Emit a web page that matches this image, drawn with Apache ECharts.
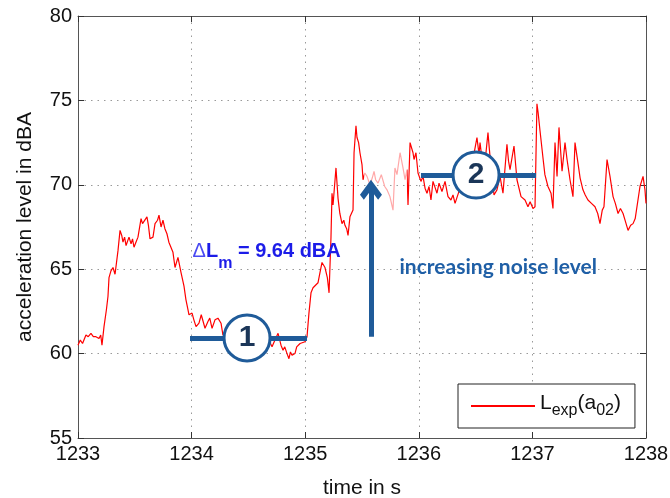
<!DOCTYPE html>
<html>
<head>
    <meta charset="utf-8"/>
    <script src="https://cdn.jsdelivr.net/npm/echarts@6/dist/echarts.min.js"></script>
    <style>body{margin:0;background:#fff}</style>
</head>
<body>
<div id="main" style="width:670px;height:498px;"></div>
<script type="text/javascript">
    // measured level over time
    var timeS = [
        1233.000, 1233.020, 1233.040, 1233.070, 1233.090, 1233.114, 1233.135, 1233.158, 1233.185, 1233.200,
        1233.211, 1233.229, 1233.250, 1233.264, 1233.273, 1233.290, 1233.308, 1233.326, 1233.352, 1233.370,
        1233.385, 1233.396, 1233.410, 1233.423, 1233.449, 1233.467, 1233.480, 1233.493, 1233.510, 1233.528,
        1233.555, 1233.568, 1233.581, 1233.607, 1233.620, 1233.634, 1233.660, 1233.678, 1233.700, 1233.713,
        1233.731, 1233.748, 1233.765, 1233.783, 1233.800, 1233.810, 1233.836, 1233.854, 1233.880, 1233.907,
        1233.933, 1233.950, 1233.968, 1233.977, 1234.004, 1234.020, 1234.039, 1234.065, 1234.085, 1234.100,
        1234.118, 1234.144, 1234.160, 1234.180, 1234.206, 1234.232, 1234.259, 1234.276, 1234.320, 1234.360,
        1234.400, 1234.440, 1234.480, 1234.520, 1234.560, 1234.600, 1234.640, 1234.680, 1234.708, 1234.734,
        1234.761, 1234.787, 1234.805, 1234.820, 1234.840, 1234.857, 1234.870, 1234.884, 1234.910, 1234.925,
        1234.937, 1234.955, 1234.972, 1234.998, 1235.016, 1235.033, 1235.051, 1235.069, 1235.086, 1235.113,
        1235.130, 1235.148, 1235.174, 1235.195, 1235.210, 1235.227, 1235.236, 1235.245, 1235.271, 1235.289,
        1235.305, 1235.324, 1235.340, 1235.350, 1235.365, 1235.377, 1235.394, 1235.421, 1235.430, 1235.447,
        1235.456, 1235.470, 1235.482, 1235.500, 1235.509, 1235.525, 1235.544, 1235.570, 1235.590, 1235.606,
        1235.620, 1235.641, 1235.670, 1235.700, 1235.720, 1235.746, 1235.773, 1235.790, 1235.808, 1235.835,
        1235.861, 1235.879, 1235.896, 1235.905, 1235.923, 1235.949, 1235.958, 1235.975, 1235.993, 1236.019,
        1236.037, 1236.055, 1236.072, 1236.090, 1236.107, 1236.125, 1236.145, 1236.160, 1236.178, 1236.204,
        1236.231, 1236.257, 1236.283, 1236.301, 1236.319, 1236.363, 1236.390, 1236.415, 1236.440, 1236.468,
        1236.490, 1236.512, 1236.530, 1236.539, 1236.555, 1236.574, 1236.590, 1236.609, 1236.620, 1236.636,
        1236.662, 1236.688, 1236.715, 1236.741, 1236.776, 1236.790, 1236.803, 1236.838, 1236.864, 1236.900,
        1236.935, 1236.961, 1236.980, 1237.005, 1237.023, 1237.040, 1237.050, 1237.067, 1237.093, 1237.110,
        1237.137, 1237.150, 1237.164, 1237.181, 1237.199, 1237.217, 1237.234, 1237.261, 1237.287, 1237.305,
        1237.331, 1237.357, 1237.375, 1237.401, 1237.420, 1237.445, 1237.465, 1237.489, 1237.520, 1237.551,
        1237.575, 1237.595, 1237.615, 1237.630, 1237.657, 1237.683, 1237.710, 1237.730, 1237.754, 1237.775,
        1237.798, 1237.820, 1237.842, 1237.865, 1237.886, 1237.905, 1237.921, 1237.947, 1237.974, 1237.991,
        1238.000
    ];
    var levelDbA = [
        60.5, 60.8, 60.6, 61.1, 61.0, 61.2, 61.0, 61.0, 60.9, 61.1,
        60.5, 61.6, 62.6, 63.4, 64.5, 64.9, 65.1, 64.7, 66.1, 67.3,
        67.0, 66.6, 66.9, 66.4, 66.9, 66.5, 66.8, 66.3, 66.6, 66.9,
        68.0, 67.7, 67.8, 68.1, 67.6, 66.8, 66.9, 67.7, 67.9, 68.2,
        67.5, 67.9, 67.4, 67.1, 66.6, 66.5, 66.0, 65.1, 65.7, 64.8,
        64.0, 63.2, 62.6, 62.3, 62.4, 62.0, 61.6, 61.8, 62.3, 62.2,
        61.5, 61.9, 62.1, 61.5, 62.0, 62.1, 61.8, 61.1, 61.4, 61.0,
        61.3, 60.9, 61.2, 60.8, 61.1, 60.7, 61.0, 60.8, 60.4, 60.8,
        61.2, 60.5, 60.2, 60.4, 60.0, 59.7, 60.1, 59.9, 60.0, 60.4,
        60.3, 60.6, 60.5, 60.7, 61.0, 62.4, 63.6, 63.9, 64.0, 64.2,
        64.8, 65.4, 65.1, 64.5, 63.6, 66.9, 69.5, 68.8, 71.0, 69.2,
        68.3, 67.7, 67.9, 67.6, 67.4, 67.0, 68.1, 68.5, 71.9, 73.5,
        72.8, 72.5, 71.9, 71.2, 70.3, 70.7, 70.5, 70.0, 70.4, 70.8,
        70.3, 70.1, 70.6, 69.9, 69.7, 69.3, 68.5, 71.0, 70.6, 71.9,
        71.0, 70.3, 70.9, 68.8, 72.5, 71.9, 71.5, 71.9, 70.7, 70.2,
        70.5, 69.8, 69.5, 69.9, 69.1, 70.2, 69.8, 69.5, 70.1, 69.6,
        70.2, 69.3, 69.1, 69.4, 68.9, 69.8, 69.5, 70.3, 70.9, 71.5,
        72.0, 72.8, 71.8, 72.5, 71.6, 70.9, 71.8, 73.1, 72.2, 71.0,
        69.4, 69.7, 70.5, 69.5, 72.4, 71.4, 70.9, 72.3, 70.3, 69.3,
        69.1, 68.7, 69.0, 68.6, 68.7, 74.8, 74.3, 73.2, 71.6, 70.6,
        69.9, 70.0, 69.5, 68.6, 72.5, 70.5, 73.4, 70.8, 72.5, 71.5,
        70.3, 69.3, 72.5, 71.3, 70.4, 69.7, 69.4, 69.1, 68.9, 68.7,
        68.3, 67.7, 68.5, 68.7, 71.5, 70.5, 69.3, 68.9, 68.3, 68.6,
        68.3, 67.8, 67.3, 67.6, 67.7, 68.0, 68.1, 69.9, 70.5, 69.7,
        68.9
    ];
    var xMin = 1233, xMax = 1238, xStep = 1;
    var yMin = 55, yMax = 80, yStep = 5;

    // marked mean levels (1) and (2)
    var refNames = ['1', '2'];
    var refLevel = [60.93, 70.58];
    var refStart = [1233.986, 1236.019];
    var refEnd = [1235.016, 1237.032];
    var refCircleT = [1234.488, 1236.504];

    // arrow from level 1 up to level 2
    var arrowT = 1235.579;
    var arrowFrom = 61.0;
    var arrowTo = 69.7;

    // text notes
    var deltaNote = {t: 1234.004, v: 65.75, text: ' = 9.64 dBA'};
    var noiseNote = {t: 1235.826, v: 65.13, text: 'increasing noise level'};

    var fontA = "'Liberation Sans', Arial, sans-serif";
    var blue = '#1f5b99';

    var lineData = timeS.map(function (t, i) { return [t, levelDbA[i]]; });

    var refLines = refNames.map(function (n, i) {
        return [{coord: [refStart[i], refLevel[i]]}, {coord: [refEnd[i], refLevel[i]]}];
    });
    refLines.push([
        {coord: [arrowT, arrowFrom], symbol: 'none'},
        {coord: [arrowT, arrowTo], symbol: 'path://M0,10 L10,0 L20,10 L16.5,13.5 L10,7 L3.5,13.5 Z', symbolSize: [22, 20]}
    ]);

    var circles = refNames.map(function (n, i) {
        return {name: n, coord: [refCircleT[i], refLevel[i]]};
    });

    var notes = [
        {
            coord: [deltaNote.t, deltaNote.v],
            label: {
                show: true, position: 'right', distance: 0,
                formatter: '{d|Δ}{b|L}{s|m}{b|' + deltaNote.text + '}',
                rich: {
                    d: {fontFamily: fontA, fontSize: 20, color: '#4a4af2', verticalAlign: 'top'},
                    b: {fontFamily: fontA, fontSize: 20, fontWeight: 'bold', color: '#1c1ce8', verticalAlign: 'top'},
                    s: {fontFamily: fontA, fontSize: 16, fontWeight: 'bold', color: '#1c1ce8', padding: [14, 0, 0, 0]}
                }
            }
        },
        {
            coord: [noiseNote.t, noiseNote.v],
            label: {
                show: true, position: 'right', distance: 0,
                formatter: noiseNote.text,
                fontFamily: 'Lato, sans-serif', fontSize: 21, fontWeight: 'bold', color: '#1f5fa6'
            }
        }
    ];

    var myChart = echarts.init(document.getElementById('main'));

    var option = {
        animation: false,
        backgroundColor: '#fff',
        grid: {left: 78, right: 24, top: 16, bottom: 60, outerBoundsMode: 'none', containLabel: false},
        visualMap: {
            show: false,
            type: 'piecewise',
            seriesIndex: 0,
            dimension: 0,
            pieces: [
                {lt: 1235.515, color: '#ff0000'},
                {gte: 1235.515, lt: 1235.90, color: '#ffa8a8'},
                {gte: 1235.90, color: '#ff0000'}
            ]
        },
        xAxis: [{
            type: 'value', min: xMin, max: xMax, interval: xStep,
            name: 'time in s', nameLocation: 'middle', nameGap: 40,
            nameTextStyle: {fontFamily: fontA, fontSize: 21, color: '#111'},
            axisLine: {show: true, lineStyle: {color: '#555'}},
            axisTick: {show: true, inside: true, length: 6, lineStyle: {color: '#333'}},
            axisLabel: {fontFamily: fontA, fontSize: 20, color: '#111', margin: 6,
                formatter: function (v) { return String(v); }},
            splitLine: {show: true, lineStyle: {type: [1.5, 5], color: '#9a9a9a'}}
        }, {
            type: 'value', position: 'top', min: xMin, max: xMax, interval: xStep,
            axisLine: {show: true, lineStyle: {color: '#555'}},
            axisTick: {show: true, inside: true, length: 6, lineStyle: {color: '#333'}},
            axisLabel: {show: false},
            splitLine: {show: false}
        }],
        yAxis: [{
            type: 'value', min: yMin, max: yMax, interval: yStep,
            name: 'acceleration level in dBA', nameLocation: 'middle', nameGap: 42,
            nameTextStyle: {fontFamily: fontA, fontSize: 21, color: '#111'},
            axisLine: {show: true, lineStyle: {color: '#555'}},
            axisTick: {show: true, inside: true, length: 6, lineStyle: {color: '#333'}},
            axisLabel: {fontFamily: fontA, fontSize: 20, color: '#111', margin: 6},
            splitLine: {show: true, lineStyle: {type: [1.5, 5], color: '#9a9a9a'}}
        }, {
            type: 'value', position: 'right', min: yMin, max: yMax, interval: yStep,
            axisLine: {show: true, lineStyle: {color: '#555'}},
            axisTick: {show: true, inside: true, length: 6, lineStyle: {color: '#333'}},
            axisLabel: {show: false},
            splitLine: {show: false}
        }],
        legend: {
            data: ['Lexp'],
            icon: 'rect',
            left: 458, top: 384,
            selectedMode: false,
            itemWidth: 64, itemHeight: 2,
            itemStyle: {color: '#ff0000', borderColor: '#ff0000', borderWidth: 0},
            padding: [9, 14, 9, 13],
            borderColor: '#222', borderWidth: 1, borderRadius: 0,
            backgroundColor: '#fff',
            formatter: function () { return '{n|L}{s|exp}{n|(a}{s|02}{n|)}'; },
            textStyle: {
                fontFamily: fontA, color: '#111',
                rich: {
                    n: {fontFamily: fontA, fontSize: 21, color: '#111', verticalAlign: 'top'},
                    s: {fontFamily: fontA, fontSize: 16, color: '#111', padding: [10, 0, 0, 0]}
                }
            }
        },
        series: [{
            name: 'Lexp',
            type: 'line',
            data: lineData,
            symbol: 'none',
            lineStyle: {width: 1.2},
            z: 2
        }, {
            type: 'line',
            data: [],
            z: 3,
            silent: true,
            markLine: {
                silent: true,
                symbol: ['none', 'none'],
                label: {show: false},
                emphasis: {disabled: true},
                lineStyle: {type: 'solid', width: 5, color: blue},
                data: refLines
            }
        }, {
            type: 'line',
            data: [],
            z: 4,
            silent: true,
            markPoint: {
                silent: true,
                symbol: 'circle',
                symbolSize: 46,
                itemStyle: {color: '#fff', borderColor: blue, borderWidth: 3},
                label: {
                    show: true, position: 'inside', formatter: '{b}',
                    fontFamily: fontA, fontSize: 30, fontWeight: 'bold', color: '#1b3658'
                },
                data: circles
            }
        }, {
            type: 'line',
            data: [],
            z: 5,
            silent: true,
            markPoint: {
                silent: true,
                symbol: 'circle',
                symbolSize: 1,
                itemStyle: {color: 'rgba(0,0,0,0)'},
                data: notes
            }
        }]
    };

    myChart.setOption(option);
</script>
</body>
</html>
